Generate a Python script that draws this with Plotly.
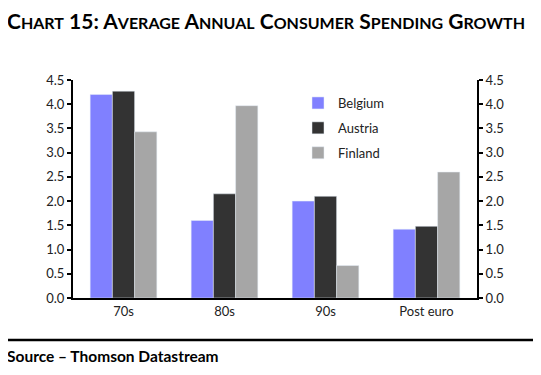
import plotly.graph_objects as go

categories = ["70s", "80s", "90s", "Post euro"]
belgium = [4.2, 1.6, 2.0, 1.42]
austria = [4.27, 2.15, 2.1, 1.48]
finland = [3.43, 3.97, 0.67, 2.6]
tick_vals = [0, 0.5, 1, 1.5, 2, 2.5, 3, 3.5, 4, 4.5]
tick_text = ["0.0", "0.5", "1.0", "1.5", "2.0", "2.5", "3.0", "3.5", "4.0", "4.5"]

FONT = "Lato"
OFF = 8  # browser default body margin

W, H = 541, 375
L, R, T, B = 73 - OFF, W - (477 - OFF), 80 - OFF, H - (298 - OFF)

fig = go.Figure()
fig.add_bar(x=categories, y=belgium, name="Belgium", marker_color="#8080FF", legendgroup="b")
fig.add_bar(x=categories, y=austria, name="Austria", marker_color="#333333", legendgroup="a")
fig.add_bar(x=categories, y=finland, name="Finland", marker_color="#A6A6A6", legendgroup="f")
fig.add_scatter(x=categories, y=finland, yaxis="y2", mode="markers",
                marker=dict(opacity=0), showlegend=False, hoverinfo="skip")

axis_common = dict(range=[0, 4.5], tickvals=tick_vals, ticktext=tick_text,
                   showline=True, linecolor="black", linewidth=2,
                   ticks="outside", ticklen=4, tickwidth=2, tickcolor="black",
                   showgrid=False, zeroline=False,
                   tickfont=dict(family=FONT, size=13, color="#222222"))

def sc(word, small=16):
    return word[0] + "<span style='font-size:%dpx'>%s</span>" % (small, word[1:])

title = "<b>" + sc("CHART") + " 15: " + " ".join(
    sc(w) for w in ["AVERAGE", "ANNUAL", "CONSUMER", "SPENDING", "GROWTH"]) + "</b>"

pw = W - L - R
ph = H - T - B
def px(x):
    return (x - OFF - L) / pw
def py(y):
    return (H - B - (y - OFF)) / ph

fig.update_layout(
    width=W, height=H,
    margin=dict(l=L, r=R, t=T, b=B),
    paper_bgcolor="white", plot_bgcolor="white",
    barmode="group", bargap=0.34, bargroupgap=0,
    font=dict(family=FONT, color="#222222"),
    xaxis=dict(showline=True, linecolor="black", linewidth=2, ticks="",
               tickfont=dict(family=FONT, size=13, color="#222222"),
               showgrid=False),
    yaxis=dict(**axis_common),
    yaxis2=dict(**axis_common, overlaying="y", side="right", anchor="x"),
    legend=dict(x=px(298), y=py(88), xanchor="left", yanchor="top",
                font=dict(family=FONT, size=13, color="#222222"),
                itemwidth=30, tracegroupgap=5, bgcolor="rgba(0,0,0,0)",
                traceorder="grouped"),
    showlegend=True,
    annotations=[
        dict(text=title, x=px(5), y=py(20), xref="paper", yref="paper",
             xanchor="left", yanchor="middle", showarrow=False,
             font=dict(family=FONT, size=21, color="black")),
        dict(text="<b>Source – Thomson Datastream</b>", xref="paper", yref="paper",
             x=px(5), y=py(356), xanchor="left", yanchor="middle", showarrow=False,
             font=dict(family=FONT, size=15.5, color="black")),
    ],
)

fig.add_shape(type="line", xref="paper", yref="paper",
              x0=px(5), x1=px(535), y0=py(340), y1=py(340),
              line=dict(color="black", width=2.5))

fig.write_html("out.html")
